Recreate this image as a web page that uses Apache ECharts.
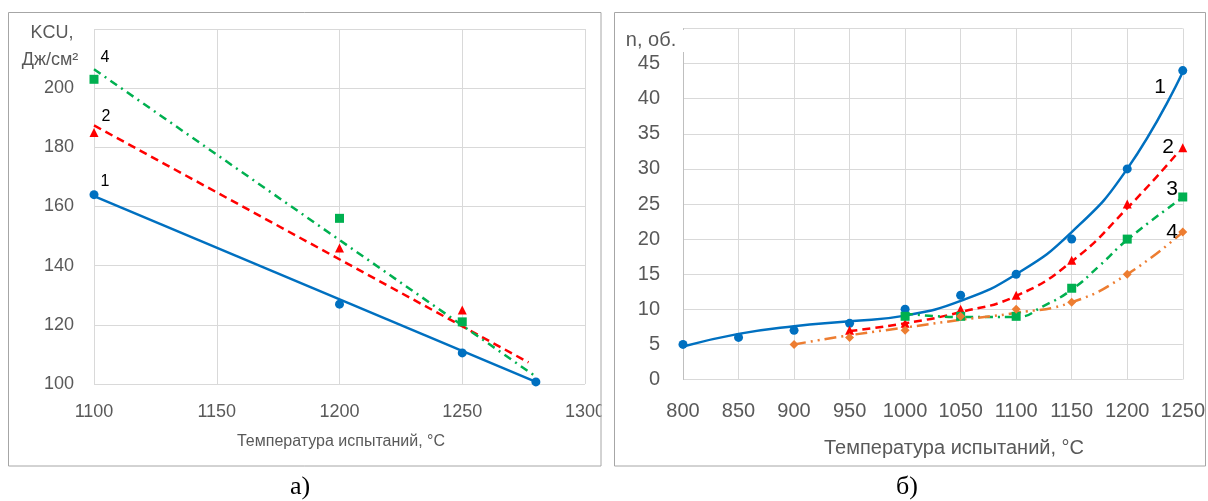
<!DOCTYPE html>
<html><head><meta charset="utf-8">
<script src="https://cdn.jsdelivr.net/npm/echarts@6/dist/echarts.min.js"></script>
<style>html,body{margin:0;padding:0;background:#fff}#c{width:1208px;height:501px}</style>
</head><body><div id="c"></div><script>
// ---- (а) impact strength KCU vs test temperature ----
const kcuTemp1 = [1100, 1200, 1250, 1280];
const kcu1 = [164, 127, 110.5, 100.7];
const kcuTemp2 = [1100, 1200, 1250];
const kcu2 = [185, 146, 125];
const kcuTemp4 = [1100, 1200, 1250];
const kcu4 = [203, 156, 121];
// linear trend lines (end points)
const kcuFitTemp1 = [1100, 1280];
const kcuFit1 = [163.5, 100.7];
const kcuFitTemp2 = [1100, 1277];
const kcuFit2 = [187.4, 107.3];
const kcuFitTemp4 = [1100, 1280];
const kcuFit4 = [206.4, 102.5];

// ---- (б) number of turns n vs test temperature ----
const nTemp1 = [800, 850, 900, 950, 1000, 1050, 1100, 1150, 1200, 1250];
const n1 = [5, 6, 7, 8, 10, 12, 15, 20, 30, 44];
const nTemp2 = [950, 1000, 1050, 1100, 1150, 1200, 1250];
const n2 = [7, 8, 10, 12, 17, 25, 33];
const nTemp3 = [1000, 1050, 1100, 1150, 1200, 1250];
const n3 = [9, 9, 9, 13, 20, 26];
const nTemp4 = [900, 950, 1000, 1050, 1100, 1150, 1200, 1250];
const n4 = [5, 6, 7, 9, 10, 11, 15, 21];
// polynomial trend curves
const nFitTemp1 = [800, 850, 900, 950, 1000, 1050, 1100, 1150, 1200, 1250];
const nFit1 = [4.7, 6.5, 7.6, 8.3, 9.1, 11.2, 15.0, 21.0, 30.0, 43.8];
const nFitTemp2 = [950, 1000, 1050, 1100, 1150, 1200, 1245];
const nFit2 = [6.9, 8.0, 9.6, 11.9, 16.8, 24.4, 32.2];
const nFitTemp3 = [1000, 1050, 1100, 1125, 1150, 1175, 1200, 1247];
const nFit3 = [9.4, 8.9, 8.9, 10.5, 12.8, 16.2, 19.9, 25.6];
const nFitTemp4 = [900, 950, 1000, 1050, 1100, 1150, 1200, 1250];
const nFit4 = [5.0, 6.3, 7.4, 8.5, 9.5, 11.0, 15.0, 21.0];

const zip = (xs, ys) => xs.map((x, i) => [x, ys[i]]);

const BLUE = '#0070C0', RED = '#FF0000', GREEN = '#00B050', ORANGE = '#ED7D31';
const GRID_C = '#d9d9d9', LABEL_C = '#595959';
const FONT = '"Liberation Sans", Arial, sans-serif';

function valueAxis(grid, min, max, interval, fontSize, margin, extra) {
  const ax = {
    type: 'value', gridIndex: grid, min, max, interval,
    axisLine: { show: false }, axisTick: { show: false },
    splitLine: { show: true, lineStyle: { color: GRID_C, width: 1 } },
    axisLabel: { color: LABEL_C, fontSize, fontFamily: FONT, margin,
      formatter: v => String(v) }
  };
  if (extra) {
    if (extra.axisLine) ax.axisLine = extra.axisLine;
    if (extra.hideMax) ax.axisLabel.showMaxLabel = false;
  }
  return ax;
}

function points(name, xi, yi, xs, ys, symbol, size, color) {
  return { name, type: 'scatter', xAxisIndex: xi, yAxisIndex: yi, data: zip(xs, ys),
    symbol, symbolSize: size, itemStyle: { color, opacity: 1 }, z: 5, silent: true };
}
function trend(name, xi, yi, xs, ys, color, dash, smooth) {
  return { name, type: 'line', xAxisIndex: xi, yAxisIndex: yi, data: zip(xs, ys),
    showSymbol: false, symbol: 'none', smooth: smooth ? 0.5 : false,
    lineStyle: { color, width: 2.5, type: dash, cap: 'butt' }, z: 4, silent: true };
}

function txt(text, x, y, size, color, align, family) {
  return { type: 'text', z: 110, style: { text, x, y, fill: color,
    font: size + 'px ' + (family || FONT), textAlign: align || 'center', textVerticalAlign: 'middle' } };
}

const chart = echarts.init(document.getElementById('c'), null, { renderer: 'canvas' });
chart.setOption({
  animation: false,
  backgroundColor: '#fff',
  grid: [
    { left: 94, top: 29, width: 491, height: 355 },
    { left: 683, top: 28.5, width: 502, height: 351 }
  ],
  xAxis: [
    valueAxis(0, 1100, 1300, 50, 18, 19),
    valueAxis(1, 800, 1250, 50, 20, 22)
  ],
  yAxis: [
    valueAxis(0, 100, 220, 20, 18, 20, { hideMax: true }),
    valueAxis(1, 0, 50, 5, 20, 23, { hideMax: true,
      axisLine: { show: true, lineStyle: { color: '#bfbfbf', width: 1 } } })
  ],
  series: [
    trend('1', 0, 0, kcuFitTemp1, kcuFit1, BLUE, 'solid', false),
    trend('2', 0, 0, kcuFitTemp2, kcuFit2, RED, [8, 5], false),
    trend('4', 0, 0, kcuFitTemp4, kcuFit4, GREEN, [8, 5, 2, 5], false),
    points('1', 0, 0, kcuTemp1, kcu1, 'circle', 9, BLUE),
    points('2', 0, 0, kcuTemp2, kcu2, 'triangle', 9, RED),
    points('4', 0, 0, kcuTemp4, kcu4, 'rect', 9, GREEN),

    trend('1', 1, 1, nFitTemp1, nFit1, BLUE, 'solid', true),
    trend('2', 1, 1, nFitTemp2, nFit2, RED, [8, 5], true),
    trend('3', 1, 1, nFitTemp3, nFit3, GREEN, [8, 5, 2, 5], true),
    trend('4', 1, 1, nFitTemp4, nFit4, ORANGE, [12, 5, 2, 5, 2, 5], true),
    points('1', 1, 1, nTemp1, n1, 'circle', 9, BLUE),
    points('2', 1, 1, nTemp2, n2, 'triangle', 9, RED),
    points('3', 1, 1, nTemp3, n3, 'rect', 9, GREEN),
    points('4', 1, 1, nTemp4, n4, 'diamond', 9, ORANGE)
  ],
  graphic: [
    // chart frames
    { type: 'rect', z: 100, shape: { x: 8.5, y: 12.5, width: 592.5, height: 453.5 },
      style: { fill: 'none', stroke: '#a6a6a6', lineWidth: 1 } },
    { type: 'rect', z: 100, shape: { x: 614.5, y: 12.5, width: 591, height: 453.5 },
      style: { fill: 'none', stroke: '#a6a6a6', lineWidth: 1 } },
    // trim of tick label beyond left frame
    { type: 'rect', z: 99, shape: { x: 601.5, y: 395, width: 12.5, height: 35 }, style: { fill: '#fff' } },
    // gap in the n-axis line under its title
    { type: 'rect', z: 99, shape: { x: 680, y: 30, width: 6, height: 22 }, style: { fill: '#fff' } },

    // axis titles
    txt('KCU,', 52, 33, 18, LABEL_C),
    txt('Дж/см²', 50, 60, 18, LABEL_C),
    txt('Температура испытаний, °С', 341, 442, 16, LABEL_C),
    txt('n, об.', 651, 40, 20, LABEL_C),
    txt('Температура испытаний, °С', 954, 448, 20, LABEL_C),

    // curve numbers
    txt('4', 105, 58, 16, '#000'),
    txt('2', 106, 117, 16, '#000'),
    txt('1', 105, 182, 16, '#000'),
    txt('1', 1160, 87, 21, '#000'),
    txt('2', 1168, 147, 21, '#000'),
    txt('3', 1172, 189, 21, '#000'),
    txt('4', 1172, 232, 21, '#000'),

    // panel captions
    txt('а)', 300, 487, 26, '#000', 'center', '"Liberation Serif", "Times New Roman", serif'),
    txt('б)', 907, 487, 26, '#000', 'center', '"Liberation Serif", "Times New Roman", serif')
  ]
});
</script></body></html>
